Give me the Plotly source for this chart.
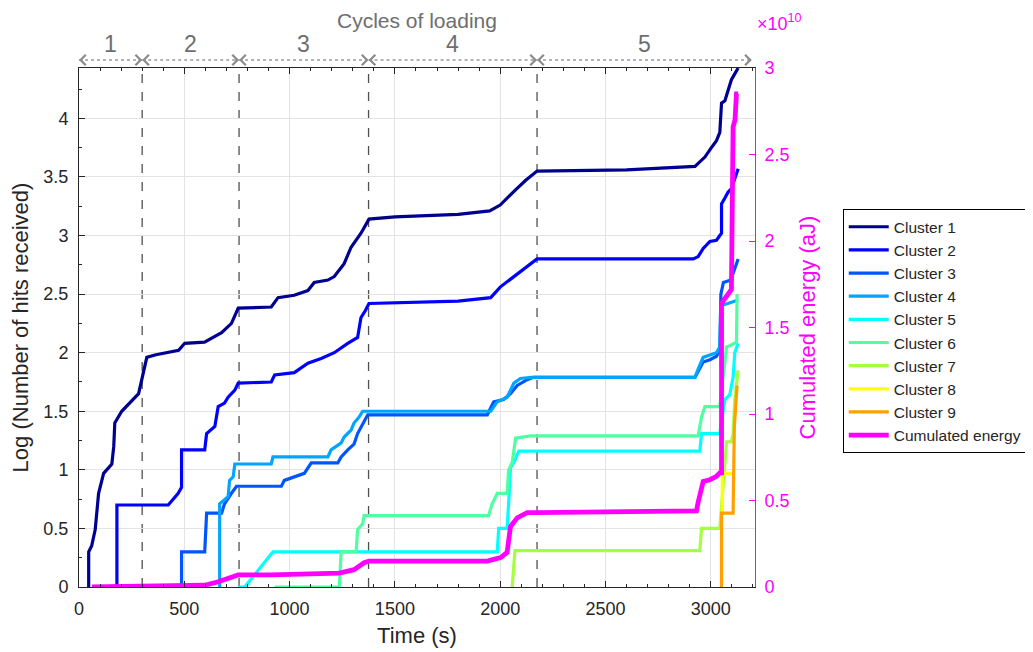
import plotly.graph_objects as go

# ---------------- data ----------------
T_C1 = [46, 46, 60, 77, 93, 117, 156, 165, 170, 203, 283, 298, 322, 360, 473, 502, 596, 677, 724, 756,
        913, 945, 1022, 1087, 1117, 1182, 1212, 1259, 1292, 1339, 1377, 1500, 1800, 1950, 2000, 2073, 2120,
        2175, 2600, 2925, 2948, 2972, 3003, 3027, 3043, 3051, 3067, 3082, 3098, 3114, 3130]
Y_C1 = [0, 0.3, 0.35, 0.49, 0.8, 0.97, 1.05, 1.2, 1.4, 1.5, 1.65, 1.76, 1.96, 1.98, 2.02, 2.08, 2.09, 2.17,
        2.25, 2.38, 2.39, 2.47, 2.49, 2.53, 2.6, 2.62, 2.65, 2.76, 2.9, 3.02, 3.14, 3.16, 3.18, 3.21, 3.26,
        3.39, 3.47, 3.55, 3.56, 3.59, 3.63, 3.67, 3.75, 3.81, 3.88, 4.13, 4.15, 4.24, 4.33, 4.38, 4.43]

T_C2 = [172, 180, 180, 424, 471, 487, 487, 597, 606, 645, 661, 691, 708, 740, 756, 913, 929, 1022, 1087,
        1150, 1212, 1276, 1323, 1339, 1360, 1377, 1800, 1955, 2000, 2073, 2120, 2175, 2600, 2917, 2940,
        2964, 2996, 3027, 3051, 3051, 3067, 3082, 3098, 3130]
Y_C2 = [0, 0, 0.7, 0.7, 0.8, 0.85, 1.17, 1.17, 1.31, 1.37, 1.54, 1.57, 1.62, 1.68, 1.74, 1.75, 1.81, 1.83,
        1.91, 1.95, 2.0, 2.08, 2.13, 2.3, 2.36, 2.42, 2.44, 2.47, 2.56, 2.66, 2.72, 2.8, 2.8, 2.8, 2.82,
        2.89, 2.95, 2.96, 3.02, 3.27, 3.32, 3.37, 3.4, 3.57]

T_C3 = [487, 487, 597, 606, 677, 691, 724, 748, 961, 975, 1070, 1103, 1229, 1245, 1276, 1306, 1323, 1354,
        1371, 1939, 1969, 2016, 2049, 2081, 2128, 2158, 2925, 2940, 2964, 2996, 3027, 3043, 3048, 3060,
        3095, 3130]
Y_C3 = [0, 0.3, 0.3, 0.63, 0.63, 0.71, 0.8, 0.86, 0.86, 0.91, 0.97, 1.06, 1.06, 1.11, 1.17, 1.22, 1.31,
        1.42, 1.47, 1.47, 1.58, 1.6, 1.65, 1.72, 1.77, 1.79, 1.79, 1.84, 1.92, 1.94, 1.97, 2.02, 2.5, 2.6,
        2.62, 2.8]

T_C4 = [661, 668, 668, 708, 715, 732, 740, 913, 921, 1182, 1197, 1245, 1259, 1292, 1306, 1330, 1347, 1955,
        1986, 2033, 2065, 2096, 2151, 2925, 2940, 2964, 2996, 3027, 3043, 3048, 3130]
Y_C4 = [0, 0, 0.71, 0.77, 0.91, 0.94, 1.05, 1.05, 1.11, 1.11, 1.17, 1.23, 1.28, 1.34, 1.4, 1.45, 1.5, 1.5,
        1.58, 1.62, 1.74, 1.78, 1.79, 1.79, 1.86, 1.96, 1.98, 2.0, 2.05, 2.4, 2.45]

T_C5 = [756, 787, 921, 1986, 1993, 2033, 2040, 2049, 2065, 2088, 2948, 2956, 3043, 3067, 3090, 3106, 3114, 3130]
Y_C5 = [0, 0, 0.3, 0.3, 0.5, 0.5, 0.71, 1.02, 1.06, 1.16, 1.16, 1.31, 1.31, 1.6, 1.64, 1.79, 2.0, 2.08]

T_C6 = [929, 1236, 1245, 1316, 1323, 1347, 1354, 1945, 1962, 1986, 2033, 2040, 2057, 2073, 2144, 2940,
        2956, 2972, 3043, 3075, 3090, 3122, 3125]
Y_C6 = [0, 0, 0.3, 0.3, 0.49, 0.54, 0.61, 0.61, 0.71, 0.8, 0.8, 1.0, 1.06, 1.27, 1.29, 1.29, 1.45, 1.54,
        1.54, 2.05, 2.06, 2.09, 2.5]

T_C7 = [2057, 2070, 2948, 2956, 3043, 3070, 3075, 3098, 3106, 3114, 3130]
Y_C7 = [0, 0.31, 0.31, 0.5, 0.5, 1.2, 1.24, 1.24, 1.31, 1.6, 1.85]

T_C8 = [3051, 3051, 3055, 3055, 3100]
Y_C8 = [0, 0.63, 0.63, 0.97, 0.97]

T_C9 = [3051, 3051, 3106, 3112, 3125]
Y_C9 = [0, 0.63, 0.63, 1.37, 1.72]

T_ENERGY = [61, 597, 661, 724, 756, 913, 1236, 1306, 1354, 1377, 1939, 1969, 2002, 2033, 2040, 2049, 2081,
            2128, 2175, 2695, 2932, 2940, 2948, 2964, 2996, 3027, 3043, 3051, 3051, 3098, 3102, 3106, 3115,
            3122, 3130]
E_ENERGY = [0, 0.01, 0.03, 0.06, 0.07, 0.07, 0.08, 0.1, 0.14, 0.15, 0.15, 0.16, 0.17, 0.2, 0.29, 0.35, 0.4,
            0.43, 0.43, 0.44, 0.44, 0.49, 0.54, 0.61, 0.62, 0.64, 0.66, 0.66, 1.64, 1.72, 2.2, 2.66, 2.7,
            2.85, 2.85]  # x 1e10 aJ

CLUSTER_NAMES = ["Cluster 1", "Cluster 2", "Cluster 3", "Cluster 4", "Cluster 5",
                 "Cluster 6", "Cluster 7", "Cluster 8", "Cluster 9"]
CLUSTER_COLORS = ["#000090", "#0000ff", "#0055ff", "#00a5ff", "#00ffff",
                  "#50ffa0", "#a5ff40", "#ffff00", "#ffa000"]
ENERGY_NAME = "Cumulated energy"
ENERGY_COLOR = "#ff00ff"

CYCLE_BOUNDS = [0, 300, 760, 1375, 2175, 3195]
CYCLE_LABELS = ["1", "2", "3", "4", "5"]

X_TICKS = [0, 500, 1000, 1500, 2000, 2500, 3000]
Y_TICKS = [0, 0.5, 1, 1.5, 2, 2.5, 3, 3.5, 4]
Y_TICK_TEXT = ["0", "0.5", "1", "1.5", "2", "2.5", "3", "3.5", "4"]
E_TICKS = [0, 0.5, 1, 1.5, 2, 2.5, 3]
E_TICK_TEXT = ["0", "0.5", "1", "1.5", "2", "2.5", "3"]

# ---------------- figure ----------------
FONT = "Liberation Sans"
AX = "#262626"

series = [(T_C1, Y_C1), (T_C2, Y_C2), (T_C3, Y_C3), (T_C4, Y_C4), (T_C5, Y_C5),
          (T_C6, Y_C6), (T_C7, Y_C7), (T_C8, Y_C8), (T_C9, Y_C9)]

fig = go.Figure()
for (t, y), name, col in zip(series, CLUSTER_NAMES, CLUSTER_COLORS):
    fig.add_trace(go.Scatter(x=t, y=y, mode="lines", name=name, legendgroup=name,
                             line=dict(color=col, width=3.2)))
fig.add_trace(go.Scatter(x=T_ENERGY, y=E_ENERGY, mode="lines", name=ENERGY_NAME, legendgroup=ENERGY_NAME,
                         line=dict(color=ENERGY_COLOR, width=4.8), yaxis="y2"))

shapes = []
for b in CYCLE_BOUNDS[1:-1]:
    shapes.append(dict(type="line", xref="x", yref="paper", x0=b, x1=b, y0=0, y1=1,
                       line=dict(color="#505050", width=1.3, dash="dash"), layer="between"))
ARROW_Y = 1.0154
annotations = []
for i, lab in enumerate(CYCLE_LABELS):
    a, b = CYCLE_BOUNDS[i], CYCLE_BOUNDS[i + 1]
    shapes.append(dict(type="line", xref="x", yref="paper", x0=a, x1=b, y0=ARROW_Y, y1=ARROW_Y,
                       line=dict(color="#9a9a9a", width=1.5, dash="dot")))
    annotations.append(dict(x=a, y=ARROW_Y, xref="x", yref="paper", text="", showarrow=True,
                            ax=5, ay=0, arrowhead=4, arrowsize=2.0, arrowwidth=1.0, arrowcolor="#8c8c8c"))
    annotations.append(dict(x=b, y=ARROW_Y, xref="x", yref="paper", text="", showarrow=True,
                            ax=-5, ay=0, arrowhead=4, arrowsize=2.0, arrowwidth=1.0, arrowcolor="#8c8c8c"))
    annotations.append(dict(x=(a + b) / 2, y=1.046, xref="x", yref="paper", text=lab, showarrow=False,
                            font=dict(family=FONT, size=23, color="#6e6e6e"), yanchor="middle"))
annotations.append(dict(x=0.5, y=1.091, xref="paper", yref="paper", text="Cycles of loading",
                        showarrow=False, font=dict(family=FONT, size=21, color="#6e6e6e"), yanchor="middle"))
annotations.append(dict(x=1.0, y=1.088, xref="paper", yref="paper", text="×10<sup>10</sup>",
                        showarrow=False, xanchor="left", yanchor="middle",
                        font=dict(family=FONT, size=18, color=ENERGY_COLOR)))

fig.update_layout(
    width=1033, height=652,
    margin=dict(l=69, r=286, t=60, b=73),
    paper_bgcolor="white", plot_bgcolor="white",
    font=dict(family=FONT, color=AX),
    shapes=shapes, annotations=annotations,
    showlegend=True,
    legend=dict(x=1.1298, y=0.728, xanchor="left", yanchor="top",
                bordercolor="black", borderwidth=1, bgcolor="white",
                font=dict(family=FONT, size=15.5, color=AX), itemwidth=40,
                traceorder="grouped", tracegroupgap=0),
    xaxis=dict(range=[0, 3210], tickvals=X_TICKS, ticks="inside", ticklen=6, tickcolor=AX,
               showline=True, linecolor=AX, linewidth=1, mirror="ticks",
               showgrid=True, gridcolor="#e3e3e3", zeroline=False,
               minor=dict(dtick=100, ticks="inside", ticklen=3, tickcolor=AX, showgrid=False),
               tickfont=dict(family=FONT, size=18, color=AX), ticklabelstandoff=5,
               title=dict(text="Time (s)", font=dict(family=FONT, size=22, color=AX), standoff=10)),
    yaxis=dict(range=[0, 4.43], tickvals=Y_TICKS, ticktext=Y_TICK_TEXT, ticks="inside", ticklen=6,
               tickcolor=AX, showline=True, linecolor=AX, linewidth=1, mirror=False,
               showgrid=True, gridcolor="#e3e3e3", zeroline=False,
               minor=dict(dtick=0.25, ticks="inside", ticklen=3, tickcolor=AX, showgrid=False),
               tickfont=dict(family=FONT, size=18, color=AX), ticklabelstandoff=6,
               title=dict(text="Log (Number of hits received)", font=dict(family=FONT, size=22, color=AX),
                          standoff=8)),
    yaxis2=dict(range=[0, 3], overlaying="y", side="right", tickvals=E_TICKS, ticktext=E_TICK_TEXT,
                ticks="inside", ticklen=6, tickcolor=ENERGY_COLOR, showline=True, linecolor=ENERGY_COLOR,
                linewidth=1, showgrid=False, zeroline=False,
                tickfont=dict(family=FONT, size=18, color=ENERGY_COLOR), ticklabelstandoff=5,
                title=dict(text="Cumulated energy (aJ)", font=dict(family=FONT, size=22, color=ENERGY_COLOR),
                           standoff=10)),
)

fig.write_html("out.html")
